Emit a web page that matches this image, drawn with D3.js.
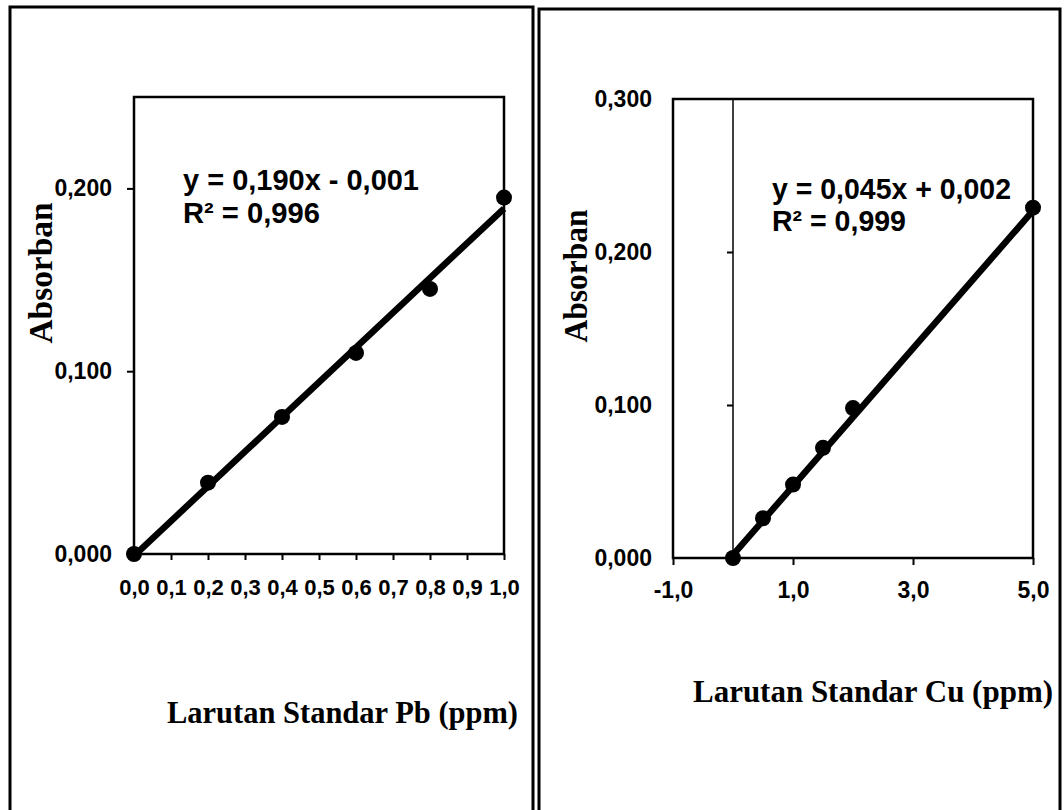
<!DOCTYPE html>
<html>
<head>
<meta charset="utf-8">
<script src="https://cdn.jsdelivr.net/npm/d3@7"></script>
<style>
  html, body { margin: 0; padding: 0; background: #fff; }
  svg { display: block; }
  .lbl { font-family: "Liberation Sans", Arial, sans-serif; font-weight: bold; }
  .ttl { font-family: "Liberation Serif", "Times New Roman", serif; font-weight: bold; }
</style>
</head>
<body>
<svg id="chart" width="1064" height="810"></svg>
<script>
// ---------- Data ----------
const pbConc = [0.0, 0.2, 0.4, 0.6, 0.8, 1.0];
const pbAbs = [0.000, 0.039, 0.075, 0.110, 0.145, 0.195];
const pbTrend = [0.190, -0.001];           // slope, intercept
const pbXTicks = [0.0, 0.1, 0.2, 0.3, 0.4, 0.5, 0.6, 0.7, 0.8, 0.9, 1.0];
const pbYTicks = [0.0, 0.1, 0.2];
const pbEquation = ["y = 0,190x - 0,001", "R² = 0,996"];

const cuConc = [0.0, 0.5, 1.0, 1.5, 2.0, 5.0];
const cuAbs = [0.000, 0.026, 0.048, 0.072, 0.098, 0.229];
const cuTrend = [0.045, 0.002];
const cuXTicks = [-1, 1, 3, 5];
const cuYTicks = [0.0, 0.1, 0.2, 0.3];
const cuEquation = ["y = 0,045x + 0,002", "R² = 0,999"];

const yTitle = "Absorban";
const pbXTitle = "Larutan Standar Pb (ppm)";
const cuXTitle = "Larutan Standar Cu (ppm)";

// ---------- Helpers ----------
const svg = d3.select("#chart");
const fmt1 = d => d3.format(".1f")(d).replace(".", ",").replace("−", "-");
const fmt3 = d => d3.format(".3f")(d).replace(".", ",");

// Outer panel borders
svg.append("rect").attr("x", 10).attr("y", 7).attr("width", 523).attr("height", 830)
  .attr("fill", "none").attr("stroke", "#000").attr("stroke-width", 3);
svg.append("rect").attr("x", 539).attr("y", 9).attr("width", 521).attr("height", 830)
  .attr("fill", "none").attr("stroke", "#000").attr("stroke-width", 3);

function styleAxis(g, fontSize) {
  g.select(".domain").remove();
  g.selectAll(".tick line").attr("stroke", "#000").attr("stroke-width", 2);
  g.selectAll(".tick text").attr("class", "lbl").attr("fill", "#000")
    .style("font-size", fontSize + "px");
}

// ---------- Pb panel ----------
(function () {
  const x = d3.scaleLinear().domain([0, 1]).range([134, 504]);
  const y = d3.scaleLinear().domain([0, 0.25]).range([554, 97]);
  const g = svg.append("g");

  g.append("rect").attr("x", x(0)).attr("y", y(0.25))
    .attr("width", x(1) - x(0)).attr("height", y(0) - y(0.25))
    .attr("fill", "none").attr("stroke", "#000").attr("stroke-width", 2.5);

  const ya = g.append("g").attr("transform", `translate(${x(0)},0)`)
    .call(d3.axisLeft(y).tickValues(pbYTicks).tickFormat(fmt3).tickSize(7).tickPadding(15));
  styleAxis(ya, 23);
  const xa = g.append("g").attr("transform", `translate(0,${y(0)})`)
    .call(d3.axisBottom(x).tickValues(pbXTicks).tickFormat(fmt1).tickSize(6).tickPadding(19));
  styleAxis(xa, 22);

  const tr = d3.extent(pbConc).map(c => [c, pbTrend[0] * c + pbTrend[1]]);
  g.append("path").datum(tr)
    .attr("d", d3.line().x(d => x(d[0])).y(d => y(d[1])))
    .attr("fill", "none").attr("stroke", "#000").attr("stroke-width", 6.5);

  g.selectAll("circle.pt").data(pbConc).enter().append("circle")
    .attr("cx", d => x(d)).attr("cy", (d, i) => y(pbAbs[i])).attr("r", 8).attr("fill", "#000");

  const widths = [236, 137];
  g.selectAll("text.eq").data(pbEquation).enter().append("text")
    .attr("class", "lbl").attr("x", 183).attr("y", (d, i) => 190 + i * 33)
    .style("font-size", "29px").attr("textLength", (d, i) => widths[i])
    .attr("lengthAdjust", "spacingAndGlyphs").text(d => d);

  g.append("text").attr("class", "ttl")
    .attr("transform", "translate(52,273) rotate(-90)")
    .attr("text-anchor", "middle").style("font-size", "33px")
    .attr("textLength", 141).attr("lengthAdjust", "spacingAndGlyphs").text(yTitle);

  g.append("text").attr("class", "ttl").attr("x", 167).attr("y", 723)
    .style("font-size", "32px").attr("textLength", 351)
    .attr("lengthAdjust", "spacingAndGlyphs").text(pbXTitle);
})();

// ---------- Cu panel ----------
(function () {
  const x = d3.scaleLinear().domain([-1, 5]).range([673, 1033]);
  const y = d3.scaleLinear().domain([0, 0.3]).range([558, 99]);
  const g = svg.append("g");

  g.append("rect").attr("x", x(-1)).attr("y", y(0.3))
    .attr("width", x(5) - x(-1)).attr("height", y(0) - y(0.3))
    .attr("fill", "none").attr("stroke", "#000").attr("stroke-width", 2.5);

  // y axis line at x = 0 with ticks
  g.append("line").attr("x1", x(0)).attr("x2", x(0)).attr("y1", y(0)).attr("y2", y(0.3))
    .attr("stroke", "#000").attr("stroke-width", 1.5);
  const yt = g.append("g").attr("transform", `translate(${x(0)},0)`)
    .call(d3.axisLeft(y).tickValues(cuYTicks.slice(1, 3)).tickFormat("").tickSize(6));
  styleAxis(yt, 23);
  // y labels placed low (left of the plot area)
  const yl = g.append("g").attr("transform", `translate(${x(-1)},0)`)
    .call(d3.axisLeft(y).tickValues(cuYTicks).tickFormat(fmt3).tickSize(0).tickPadding(21));
  styleAxis(yl, 23);

  const xa = g.append("g").attr("transform", `translate(0,${y(0)})`)
    .call(d3.axisBottom(x).tickValues(cuXTicks).tickFormat(fmt1).tickSize(7).tickPadding(17));
  styleAxis(xa, 23);

  const tr = d3.extent(cuConc).map(c => [c, cuTrend[0] * c + cuTrend[1]]);
  g.append("path").datum(tr)
    .attr("d", d3.line().x(d => x(d[0])).y(d => y(d[1])))
    .attr("fill", "none").attr("stroke", "#000").attr("stroke-width", 6.5);

  g.selectAll("circle.pt").data(cuConc).enter().append("circle")
    .attr("cx", d => x(d)).attr("cy", (d, i) => y(cuAbs[i])).attr("r", 8).attr("fill", "#000");

  const widths = [239, 134];
  g.selectAll("text.eq").data(cuEquation).enter().append("text")
    .attr("class", "lbl").attr("x", 772).attr("y", (d, i) => 199 + i * 32)
    .style("font-size", "29px").attr("textLength", (d, i) => widths[i])
    .attr("lengthAdjust", "spacingAndGlyphs").text(d => d);

  g.append("text").attr("class", "ttl")
    .attr("transform", "translate(587,276) rotate(-90)")
    .attr("text-anchor", "middle").style("font-size", "33px")
    .attr("textLength", 133).attr("lengthAdjust", "spacingAndGlyphs").text(yTitle);

  g.append("text").attr("class", "ttl").attr("x", 693).attr("y", 702)
    .style("font-size", "32px").attr("textLength", 360)
    .attr("lengthAdjust", "spacingAndGlyphs").text(cuXTitle);
})();
</script>
</body>
</html>
